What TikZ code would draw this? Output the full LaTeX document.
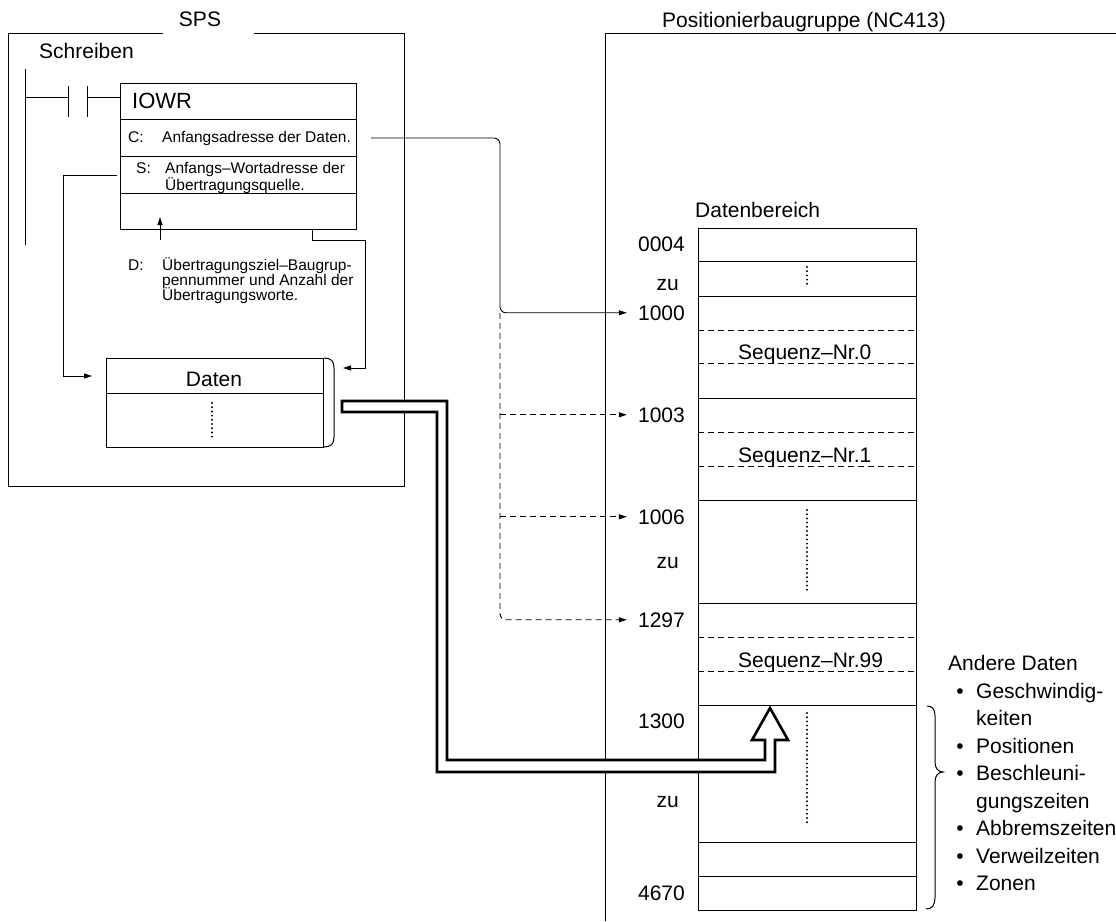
\documentclass[tikz,border=0pt]{standalone}
\usepackage{fontspec}
\setmainfont{Liberation Sans}
\usetikzlibrary{arrows.meta,calc}
\tikzset{
  cell/.style={draw, line width=1pt, inner sep=0pt, anchor=north west},
  big/.style={font=\fontsize{21pt}{25pt}\selectfont, inner sep=0pt},
  small/.style={font=\fontsize{15.5pt}{15pt}\selectfont, inner sep=0pt},
  conn/.style={-{Triangle[length=8pt,width=5pt]}, line width=0.9pt},
  dconn/.style={conn, dash pattern=on 6pt off 4pt},
  dotline/.style={line width=2.2pt, dash pattern=on 0pt off 4.2pt, line cap=round},
  hollow/.style={draw, fill=white, line width=2.6pt, line join=miter},
}

\begin{document}
\begin{tikzpicture}[x=1pt, y=-1pt]
  \useasboundingbox (0,0) rectangle (1116,921);

  % ---------- frames ----------
  \draw[line width=1pt] (163,33) -| (8,486) -| (404,33) -- (254,33);
  \draw[line width=1pt] (1116,33) -- (605,33) -- (605,921);
  \node[big, anchor=base] (tsps) at (200,26) {SPS};
  \node[big, anchor=base west] (tnc) at (662,27) {Positionierbaugruppe (NC413)};
  \node[big, anchor=base west] (tschr) at (39,58) {Schreiben};

  % ---------- ladder + IOWR ----------
  \draw[line width=1pt] (25,69) -- (25,245);
  \draw[line width=1pt] (25,97) -- (68,97) (68,86) -- (68,117)
                        (87,86) -- (87,117) (87,97) -- (120,97);
  \node[cell, minimum width=236pt, minimum height=36pt] (iowrT) at (120,83) {};
  \node[cell, minimum width=236pt, minimum height=37pt] (iowrC) at (120,119) {};
  \node[cell, minimum width=236pt, minimum height=37pt] (iowrS) at (120,156) {};
  \node[cell, minimum width=236pt, minimum height=36pt] (iowrD) at (120,193) {};
  \node[big, anchor=base west, font=\fontsize{22pt}{25pt}\selectfont] (tiowr) at (132,108) {IOWR};
  \node[small, anchor=base west] (cC)   at (128,142) {C:};
  \node[small, anchor=base west] (cCt)  at (162,142) {Anfangsadresse der Daten.};
  \node[small, anchor=base west] (cS)   at (136,173) {S:};
  \node[small, anchor=base west] (cSt1) at (165,173) {Anfangs--Wortadresse der};
  \node[small, anchor=base west] (cSt2) at (165,190) {Übertragungsquelle.};
  \node[small, anchor=base west] (cD)   at (128,270) {D:};
  \node[small, anchor=base west] (cDt1) at (162,270) {Übertragungsziel--Baugrup-};
  \node[small, anchor=base west] (cDt2) at (162,285) {pennummer und Anzahl der};
  \node[small, anchor=base west] (cDt3) at (162,300) {Übertragungsworte.};
  \draw[conn] (160,240) -- (160,217);

  % ---------- Daten ----------
  \node[cell, minimum width=217pt, minimum height=35pt] (datenT) at (106,358) {};
  \node[cell, minimum width=217pt, minimum height=54pt] (datenB) at (106,393) {};
  \node[big, anchor=base] (tdaten) at (214,386) {Daten};
  \draw[dotline] (212,403) -- (212,438);
  \draw[line width=1pt] (324,358) .. controls (331,358) and (334,361) .. (334,368)
    -- (334,437) .. controls (334,444) and (331,447) .. (324,447);

  % ---------- Datenbereich ----------
  \node[big, anchor=base west] (tarea) at (695,217) {Datenbereich};
  \node[cell, minimum width=218pt, minimum height=682pt] (area) at (698,228) {};
  \foreach \yy in {261,296,398,500,603,705,842,876}
    \draw[line width=1pt] (area.west |- 0,\yy) -- (area.east |- 0,\yy);
  \foreach \yy in {330,363,432,466,637,671}
    \draw[line width=1pt, dash pattern=on 6pt off 4pt] (area.west |- 0,\yy) -- (area.east |- 0,\yy);
  \draw[dotline] (807,267) -- (807,287);
  \draw[dotline] (807,510) -- (807,592);
  \draw[dotline] (807,713) -- (807,823);
  \node[big, anchor=base west] (seq0)  at (738,359) {Sequenz--Nr.0};
  \node[big, anchor=base west] (seq1)  at (738,462) {Sequenz--Nr.1};
  \node[big, anchor=base west] (seq99) at (738,667) {Sequenz--Nr.99};

  \foreach \nm/\yy/\txt in {n0004/251/0004, n1000/320/1000, n1003/422/1003, n1006/524/1006,
                            n1297/627/1297, n1300/728/1300, n4670/900/4670}
    \node[big, anchor=base east] (\nm) at (685,\yy) {\txt};
  \foreach \nm/\yy in {zuA/290, zuB/568, zuC/807}
    \node[big, anchor=base east] (\nm) at (679,\yy) {zu};

  % ---------- connectors ----------
  \coordinate (spine) at (500,0);
  \coordinate (sbend) at (63,0);
  \draw[conn, rounded corners=6pt, shorten >=11pt] ([xshift=14pt]iowrC.east) -| (spine |- n1000.west) -- (n1000.west);
  \draw[dconn, rounded corners=6pt, shorten >=11pt] (spine |- n1000.west) |- (n1297.west);
  \draw[dconn, shorten >=11pt] (spine |- n1003.west) -- (n1003.west);
  \draw[dconn, shorten >=11pt] (spine |- n1006.west) -- (n1006.west);
  \draw[conn, shorten >=14pt] ([xshift=-3pt]iowrS.west) -| (sbend |- datenT.west) -- (datenT.west);
  \draw[conn] ([xshift=74pt]iowrD.south) |- (365,240) |- (343,368);

  % ---------- transfer arrow ----------
  \draw[hollow] (342,401) -- (447,401) -- (447,760) -- (765,760) -- (765,740) -- (752,740)
    -- (770,708) -- (788,740) -- (775,740) -- (775,772) -- (437,772) -- (437,412)
    -- (342,412) -- cycle;

  % ---------- other data ----------
  \draw[line width=1pt] (927,706) .. controls (933,706) and (935,710) .. (935,716)
    -- (935,762) .. controls (935,768) and (938,772) .. (943,772)
    .. controls (938,772) and (935,776) .. (935,782)
    -- (935,898) .. controls (935,905) and (932,909) .. (926,909);
  \node[big, anchor=base west] (tother) at (948,670) {Andere Daten};
  \foreach \yy/\txt [count=\i] in {698/Geschwindig-, 753/Positionen, 780.5/Beschleuni-,
                                   835.5/Abbremszeiten, 863/Verweilzeiten, 890.5/Zonen} {
    \node[big, anchor=base] (bul\i) at (960,\yy) {\textbullet};
    \node[big, anchor=base west] (item\i) at (976,\yy) {\txt};
  }
  \node[big, anchor=base west] (item1b) at (976,725.5) {keiten};
  \node[big, anchor=base west] (item3b) at (976,808) {gungszeiten};

\end{tikzpicture}
\end{document}
